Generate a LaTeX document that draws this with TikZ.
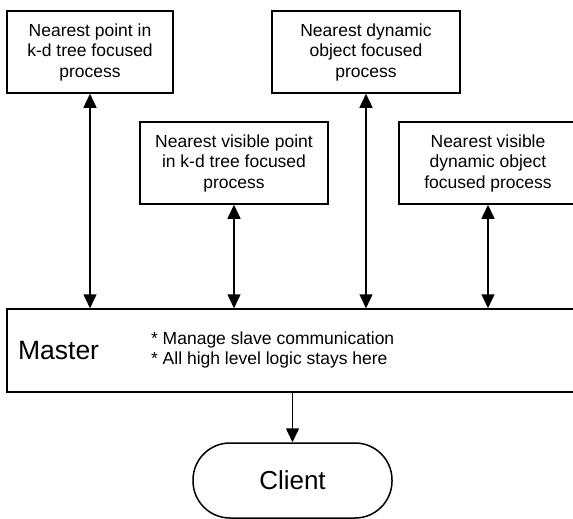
\documentclass[tikz,border=0pt]{standalone}
\usepackage{fontspec}
\setmainfont{Liberation Sans}
\usetikzlibrary{arrows.meta, positioning, calc}

\begin{document}
\begin{tikzpicture}[x=1pt, y=-1pt, >={Triangle[length=14pt, width=13pt]}, line width=1.5pt,
    proc/.style={draw, align=center, inner sep=0pt, minimum height=82pt, font=\fontsize{17.5}{20.5}\selectfont}]
\useasboundingbox (0,0) rectangle (573,519);

% slave processes
\node[proc, minimum width=166pt] (kdtree) at (90,52) {Nearest point in\\k-d tree focused\\process};
\node[proc, minimum width=188pt] (kdvisible) at (234,163) {Nearest visible point\\in k-d tree focused\\process};
\node[proc, minimum width=188pt] (dynamic) at (366,52) {Nearest dynamic\\object focused\\process};
\node[proc, minimum width=178pt] (dynvisible) at (488,163) {Nearest visible\\dynamic object\\focused process};

% master and client
\node[draw, inner sep=0pt, minimum width=573pt, minimum height=83pt] (master) at (293.5,350.5) {};
\node[anchor=west, font=\fontsize{26.5}{30}\selectfont] (mastername) at (14,351) {Master};
\node[anchor=west, align=left, font=\fontsize{17.5}{20}\selectfont] (masternote) at (147,350) {* Manage slave communication\\* All high level logic stays here};
\node[draw, rounded corners=37pt, inner sep=0pt, minimum width=199pt, minimum height=75pt, font=\fontsize{26}{30}\selectfont] (client) at (292.5,480.5) {Client};

\draw[<->] (kdtree.south) -- (kdtree.south |- master.north);
\draw[<->] (kdvisible.south) -- (kdvisible.south |- master.north);
\draw[<->] (dynamic.south) -- (dynamic.south |- master.north);
\draw[<->] (dynvisible.south) -- (dynvisible.south |- master.north);
\draw[->] (client.north |- master.south) -- (client.north);

\end{tikzpicture}
\end{document}
